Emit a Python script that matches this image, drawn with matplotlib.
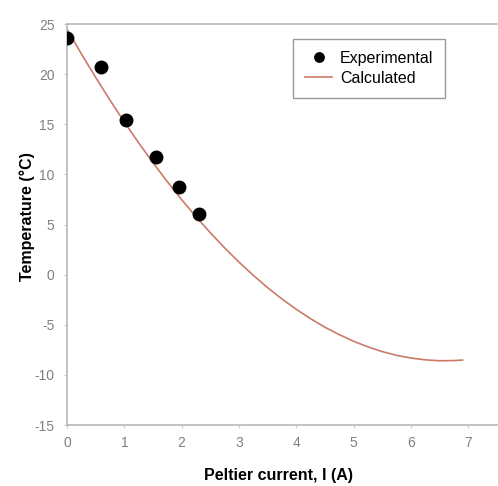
import matplotlib
matplotlib.use("Agg")
import matplotlib.pyplot as plt

plt.rcParams['font.family'] = ['Liberation Sans', 'DejaVu Sans']
plt.rcParams['axes.unicode_minus'] = False

exp_current = [0.0, 0.59, 1.03, 1.55, 1.96, 2.31]
exp_temp = [23.6, 20.7, 15.4, 11.7, 8.7, 6.1]

calc_current = [0.0, 0.25, 0.5, 0.75, 1.0, 1.25, 1.5, 1.75, 2.0, 2.25, 2.5, 2.75, 3.0, 3.25,
                3.5, 3.75, 4.0, 4.25, 4.5, 4.75, 5.0, 5.25, 5.5, 5.75, 6.0, 6.25, 6.5, 6.75, 6.9]
calc_temp = [24.5, 22.04, 19.68, 17.41, 15.23, 13.15, 11.17, 9.28, 7.48, 5.78, 4.18, 2.67, 1.25,
             -0.07, -1.30, -2.43, -3.46, -4.40, -5.25, -5.99, -6.65, -7.21, -7.68, -8.05, -8.32,
             -8.50, -8.59, -8.57, -8.52]

xticks = [0, 1, 2, 3, 4, 5, 6, 7]
yticks = [-15, -10, -5, 0, 5, 10, 15, 20, 25]

fig = plt.figure(figsize=(4.98, 4.86), dpi=100)
ax = fig.add_axes([0.1345, 0.1255, 0.8635, 0.825])

ax.plot(calc_current, calc_temp, color='#cc7a68', lw=1.2, label='Calculated', zorder=2)
ax.plot(exp_current, exp_temp, 'o', color='black', ms=9, label='Experimental', zorder=3)

ax.set_xlim(0, 7.5)
ax.set_ylim(-15, 25)
ax.set_xticks(xticks)
ax.set_yticks(yticks)
ax.tick_params(axis='both', colors='#cccccc', labelcolor='#808080', labelsize=10, length=2, width=0.8)
ax.tick_params(axis='y', pad=7)
ax.tick_params(axis='x', pad=6)

for s in ['left', 'bottom', 'top']:
    ax.spines[s].set_color('#b8b8b8')
    ax.spines[s].set_linewidth(1.2)
ax.spines['right'].set_visible(False)

ax.set_xlabel('Peltier current, I (A)', fontsize=11.5, fontweight='bold', va='center')
ax.xaxis.set_label_coords(0.493, -0.125)
ax.set_ylabel('Temperature (°C)', fontsize=11.5, fontweight='bold', va='center')
ax.yaxis.set_label_coords(-0.092, 0.521)

handles, labels = ax.get_legend_handles_labels()
leg = ax.legend(handles[::-1], labels[::-1], loc='upper left', bbox_to_anchor=(0.5256, 0.963),
                borderaxespad=0, fontsize=11.5, frameon=True, fancybox=False, edgecolor='#808080',
                handlelength=1.7, borderpad=0.75, labelspacing=0.3, handletextpad=0.5,
                markerscale=0.75)
leg.get_frame().set_linewidth(1.0)

fig.savefig('out.png', dpi=100)
